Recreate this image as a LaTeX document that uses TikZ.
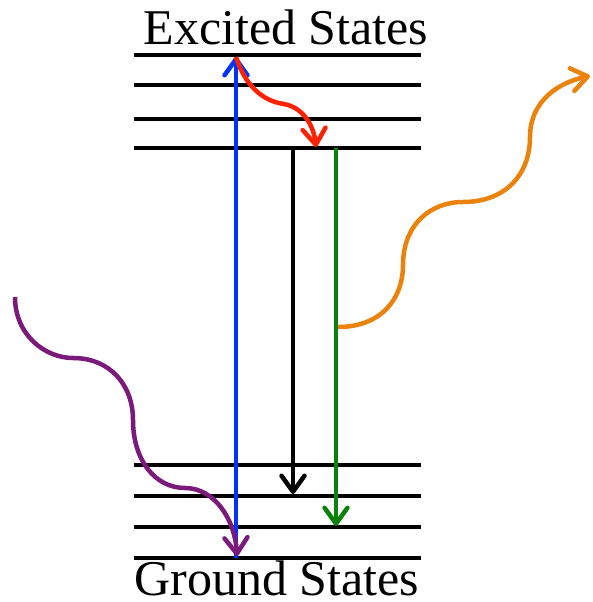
\documentclass[tikz,border=0pt]{standalone}
\usepackage{fontspec}
\setmainfont{Liberation Serif}
\usetikzlibrary{arrows.meta}
\definecolor{absblue}{RGB}{0,51,255}
\definecolor{relaxred}{RGB}{255,34,0}
\definecolor{emitgreen}{RGB}{10,130,10}
\definecolor{photonorange}{RGB}{234,130,12}
\definecolor{photonpurple}{RGB}{122,26,122}

\begin{document}
\begin{tikzpicture}[x=1pt, y=-1pt, line width=4.5pt,
  tip/.style={-{Straight Barb[length=16pt,width=23pt,round]}},
  statetext/.style={font=\fontsize{50}{52}\selectfont, anchor=base, inner sep=0pt}]
  \useasboundingbox (0,0) rectangle (592,602);
  % energy levels
  \foreach \lvl/\y in {e1/55, e2/85, e3/119, e4/148, g1/465, g2/496, g3/527, g4/558} {
    \coordinate (\lvl L) at (134,\y);
    \coordinate (\lvl R) at (421,\y);
    \draw (\lvl L) -- (\lvl R);
  }
  \node[statetext] (excited) at (286,45) {Excited States};
  \node[statetext] (ground) at (277,595) {Ground States};
  % transition end points
  \coordinate (absbot) at (236,558);
  \coordinate (abstop) at (236,57);
  \coordinate (relax) at (316,147);
  \coordinate (blktop) at (293,148);
  \coordinate (blkbot) at (293,494);
  \coordinate (grntop) at (336,148);
  \coordinate (grnbot) at (336,526);
  \coordinate (emit) at (338,327);
  \coordinate (emitend) at (590,76);
  \coordinate (inc) at (15,297);
  \coordinate (incend) at (237,556);
  % absorption and relaxation
  \draw[tip, absblue] (absbot) -- (abstop);
  \draw[tip, relaxred] (abstop) .. controls (245,85) and (262,101) .. (284,104)
    .. controls (305,108) and (314,128) .. (relax);
  \draw[tip, black] (blktop) -- (blkbot);
  \draw[tip, emitgreen] (grntop) -- (grnbot);
  % photons
  \draw[tip, photonorange] (emit) .. controls (380,327) and (403,300) .. (403,265)
    .. controls (403,225) and (430,202) .. (463,202)
    .. controls (505,202) and (530,175) .. (530,137)
    .. controls (530,100) and (560,82) .. (emitend);
  \draw[tip, photonpurple] (inc) .. controls (15,335) and (45,358) .. (73,358)
    .. controls (110,358) and (133,385) .. (133,420)
    .. controls (133,460) and (155,488) .. (185,488)
    .. controls (215,488) and (235,520) .. (incend);
\end{tikzpicture}
\end{document}
